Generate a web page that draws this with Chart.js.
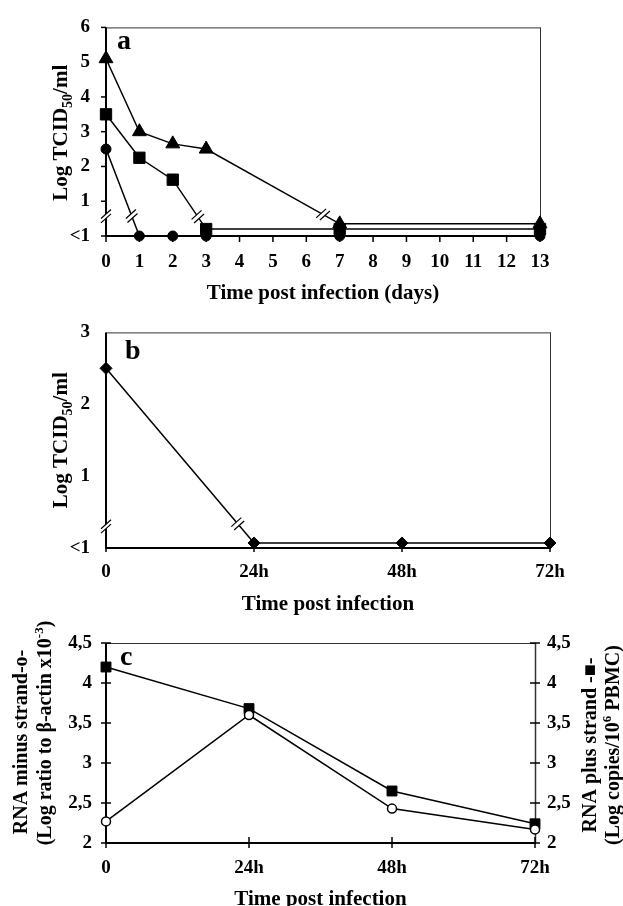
<!DOCTYPE html>
<html>
<head>
<meta charset="utf-8">
<script src="https://cdn.jsdelivr.net/npm/chart.js@4.4.0/dist/chart.umd.min.js"></script>
<style>
html,body{margin:0;padding:0;background:#fff;}
#wrap{position:relative;width:623px;height:906px;overflow:hidden;}
canvas{position:absolute;left:0;}
</style>
</head>
<body>
<div id="wrap">
  <canvas id="cA" width="623" height="305" style="top:0"></canvas>
  <canvas id="cB" width="623" height="310" style="top:305px"></canvas>
  <canvas id="cC" width="623" height="291" style="top:615px"></canvas>
</div>
<script>
// panel a : titre viral (days)
const DAYS_A = [0, 1, 2, 3, 7, 13];
const TRI_A  = [5.1, 3.0, 2.65, 2.5, 0.35, 0.35];
const SQ_A   = [3.5, 2.25, 1.62, 0.2, 0.2, 0.2];
const DOT_A  = [2.5, 0, 0, 0, 0, 0];
// panel b : hours
const HOURS = [0, 24, 48, 72];
const HOUR_LABELS = {0:'0', 24:'24h', 48:'48h', 72:'72h'};
const DIA_B = [2.5, 0.07, 0.07, 0.07];
// panel c : RNA strands
const MINUS_C = [2.27, 3.6, 2.43, 2.17];
const PLUS_C  = [4.2, 3.68, 2.65, 2.24];
const LOW_LABEL = '<1';

const FF = "'Liberation Serif','Times New Roman',serif";
Chart.defaults.font.family = FF;
Chart.defaults.font.weight = 'bold';
Chart.defaults.font.size = 19;
Chart.defaults.color = '#000';

const pts = (xs, ys) => xs.map((x, i) => ({x, y: ys[i]}));
const lowTick = v => v === 0 ? LOW_LABEL : String(v);
const commaTick = v => String(v).replace('.', ',');

// rich text: parts [{t, s, dy}], centred on (x,y), optionally rotated
function rich(ctx, parts, x, y, rot){
  ctx.save(); ctx.translate(x, y); if(rot) ctx.rotate(-Math.PI/2);
  let w = 0;
  parts.forEach(p => { ctx.font = `bold ${p.s}px ${FF}`; p.w = ctx.measureText(p.t).width; w += p.w; });
  const base = parts[0].s * 0.33;
  let cx = -w/2; ctx.fillStyle = '#000'; ctx.textBaseline = 'alphabetic'; ctx.textAlign = 'left';
  parts.forEach(p => { ctx.font = `bold ${p.s}px ${FF}`; ctx.fillText(p.t, cx, base + (p.dy||0)); cx += p.w; });
  ctx.restore();
}

function breakMark(ctx, cx, cy, ux, uy){
  const g = 2.2, sx = 5, sy = -4.5;
  const a1 = [cx - g*ux, cy - g*uy], a2 = [cx + g*ux, cy + g*uy];
  ctx.fillStyle = '#fff';
  ctx.beginPath();
  ctx.moveTo(a1[0]-sx, a1[1]-sy); ctx.lineTo(a1[0]+sx, a1[1]+sy);
  ctx.lineTo(a2[0]+sx, a2[1]+sy); ctx.lineTo(a2[0]-sx, a2[1]-sy); ctx.closePath(); ctx.fill();
  ctx.strokeStyle = '#000'; ctx.lineWidth = 1.2;
  [a1, a2].forEach(p => { ctx.beginPath(); ctx.moveTo(p[0]-sx, p[1]-sy); ctx.lineTo(p[0]+sx, p[1]+sy); ctx.stroke(); });
}

const deco = {
  id: 'deco',
  beforeDatasetsDraw(chart, args, o){
    const {ctx, chartArea: a, scales} = chart;
    ctx.save();
    ctx.strokeStyle = '#333'; ctx.lineWidth = 1;
    ctx.beginPath(); ctx.moveTo(a.left, a.top + 0.5); ctx.lineTo(a.right + 0.5, a.top + 0.5); ctx.stroke();
    ctx.lineWidth = o.rightW || 1;
    ctx.beginPath(); ctx.moveTo(a.right + 0.5, a.top); ctx.lineTo(a.right + 0.5, a.bottom); ctx.stroke();
    ctx.strokeStyle = '#000'; ctx.lineWidth = 2;
    ctx.beginPath(); ctx.moveTo(a.left, a.top); ctx.lineTo(a.left, a.bottom); ctx.lineTo(a.right + 1, a.bottom); ctx.stroke();
    ctx.lineWidth = 1.5;
    Object.entries(o.ticks || {}).forEach(([id, [out, inn]]) => {
      const s = scales[id]; if(!s) return;
      s.ticks.forEach(t => {
        const p = s.getPixelForValue(t.value);
        ctx.beginPath();
        if(s.isHorizontal()){ ctx.moveTo(p, a.bottom - inn); ctx.lineTo(p, a.bottom + out); }
        else if(s.position === 'right'){ ctx.moveTo(a.right - inn, p); ctx.lineTo(a.right + out, p); }
        else { ctx.moveTo(a.left + inn, p); ctx.lineTo(a.left - out, p); }
        ctx.stroke();
      });
    });
    ctx.restore();
  },
  afterDatasetsDraw(chart, args, o){
    const {ctx, chartArea: a, scales} = chart;
    ctx.save();
    if(o.axisBreak != null) breakMark(ctx, a.left, scales.y.getPixelForValue(o.axisBreak), 0, 1);
    (o.lineBreaks || []).forEach(([ds, i, t]) => {
      const d = chart.getDatasetMeta(ds).data, p0 = d[i], p1 = d[i+1];
      const dx = p1.x - p0.x, dy = p1.y - p0.y, L = Math.hypot(dx, dy);
      breakMark(ctx, p0.x + t*dx, p0.y + t*dy, dx/L, dy/L);
    });
    ctx.restore();
  },
  afterDraw(chart, args, o){
    const {ctx, chartArea: a} = chart;
    const mx = (a.left + a.right)/2, my = (a.top + a.bottom)/2;
    if(o.letter){
      ctx.save(); ctx.font = `bold 28px ${FF}`; ctx.fillStyle = '#000'; ctx.textBaseline = 'alphabetic';
      ctx.fillText(o.letter[0], a.left + o.letter[1], a.top + o.letter[2]); ctx.restore();
    }
    if(o.xTitle) rich(ctx, o.xTitle.parts, mx, a.bottom + o.xTitle.dy, false);
    (o.yTitles || []).forEach(tt => {
      const x = tt.side === 'right' ? a.right + tt.dx : a.left + tt.dx;
      rich(ctx, tt.parts, x, my + (tt.dy||0), true);
    });
  }
};

const lineDs = (data, style, r, extra) => Object.assign({
  data, borderColor: '#000', borderWidth: 1.5, backgroundColor: '#000',
  pointStyle: style, pointRadius: r, pointBorderColor: '#000', pointBorderWidth: 1,
  pointBackgroundColor: '#000', tension: 0, clip: false
}, extra || {});

const baseOpts = (pad) => ({
  responsive: false, animation: false, devicePixelRatio: 1,
  layout: {padding: pad, autoPadding: false},
  plugins: {legend: {display: false}, tooltip: {enabled: false}},
  events: []
});
const noGrid = {display: false, drawTicks: false};
const noBorder = {display: false};

// ---- panel a
const optA = baseOpts({top: 15, right: 83, left: 0, bottom: 0});
optA.scales = {
  x: {type: 'linear', min: 0, max: 13, grid: noGrid, border: noBorder,
      ticks: {stepSize: 1, padding: 15}, afterFit: s => { s.height = 69; }},
  y: {min: 0, max: 6, grid: noGrid, border: noBorder,
      ticks: {stepSize: 1, padding: 16, callback: lowTick}, afterFit: s => { s.width = 106; }}
};
optA.plugins.deco = {
  ticks: {x: [6, 0], y: [5, 0]},
  axisBreak: 0.57,
  lineBreaks: [[2, 0, 0.77], [1, 2, 0.75], [0, 3, 0.875]],
  letter: ['a', 11, 22],
  xTitle: {parts: [{t: 'Time post infection (days)', s: 21}], dy: 56},
  yTitles: [{dx: -46, dy: 1, parts: [{t: 'Log TCID', s: 21}, {t: '50', s: 14, dy: 5}, {t: '/ml', s: 21}]}]
};
new Chart(document.getElementById('cA'), {
  type: 'line',
  data: {datasets: [
    lineDs(pts(DAYS_A, TRI_A), 'triangle', 8),
    lineDs(pts(DAYS_A, SQ_A), 'rect', 8),
    lineDs(pts(DAYS_A, DOT_A), 'circle', 5)
  ]},
  options: optA, plugins: [deco]
});

// ---- panel b
const optB = baseOpts({top: 27, right: 73, left: 0, bottom: 0});
optB.scales = {
  x: {type: 'linear', min: 0, max: 72, grid: noGrid, border: noBorder,
      ticks: {stepSize: 24, padding: 13, callback: v => HOUR_LABELS[v]}, afterFit: s => { s.height = 67; }},
  y: {min: 0, max: 3, grid: noGrid, border: noBorder,
      ticks: {stepSize: 1, padding: 16, callback: lowTick}, afterFit: s => { s.width = 106; }}
};
optB.plugins.deco = {
  ticks: {x: [4, 0]},
  axisBreak: 0.3,
  lineBreaks: [[0, 0, 0.89]],
  letter: ['b', 19, 27],
  xTitle: {parts: [{t: 'Time post infection', s: 21}], dy: 55},
  yTitles: [{dx: -46, dy: 0, parts: [{t: 'Log TCID', s: 21}, {t: '50', s: 14, dy: 5}, {t: '/ml', s: 21}]}]
};
new Chart(document.getElementById('cB'), {
  type: 'line',
  data: {datasets: [lineDs(pts(HOURS, DIA_B), 'rectRot', 6)]},
  options: optB, plugins: [deco]
});

// ---- panel c
const optC = baseOpts({top: 28, right: 0, left: 0, bottom: 0});
optC.scales = {
  x: {type: 'linear', min: 0, max: 72, grid: noGrid, border: noBorder,
      ticks: {stepSize: 24, padding: 14, callback: v => HOUR_LABELS[v]}, afterFit: s => { s.height = 63; }},
  y: {position: 'left', min: 2, max: 4.5, grid: noGrid, border: noBorder,
      ticks: {stepSize: 0.5, padding: 14, callback: commaTick}, afterFit: s => { s.width = 106; }},
  y2: {position: 'right', min: 2, max: 4.5, grid: noGrid, border: noBorder,
      ticks: {stepSize: 0.5, padding: 12, callback: commaTick}, afterFit: s => { s.width = 88; }}
};
optC.plugins.deco = {
  rightW: 1.5,
  ticks: {x: [5, 6], y: [5, 5], y2: [5, 5]},
  letter: ['c', 14, 22],
  xTitle: {parts: [{t: 'Time post infection', s: 21}], dy: 55},
  yTitles: [
    {dx: -86, dy: -1, parts: [{t: 'RNA minus strand-o-', s: 20}]},
    {dx: -62, dy: -10, parts: [{t: '(Log ratio to β-actin x10', s: 20}, {t: '-3', s: 13, dy: -8}, {t: ')', s: 20}]},
    {side: 'right', dx: 54, dy: 2, parts: [{t: 'RNA plus strand -■-', s: 20}]},
    {side: 'right', dx: 77, dy: 2, parts: [{t: '(Log copies/10', s: 20}, {t: '6', s: 13, dy: -8}, {t: ' PBMC)', s: 20}]}
  ]
};
new Chart(document.getElementById('cC'), {
  type: 'line',
  data: {datasets: [
    lineDs(pts(HOURS, MINUS_C), 'circle', 4.5, {yAxisID: 'y', pointBackgroundColor: '#fff', pointBorderWidth: 1.5}),
    lineDs(pts(HOURS, PLUS_C), 'rect', 7, {yAxisID: 'y2'})
  ]},
  options: optC, plugins: [deco]
});
</script>
</body>
</html>
